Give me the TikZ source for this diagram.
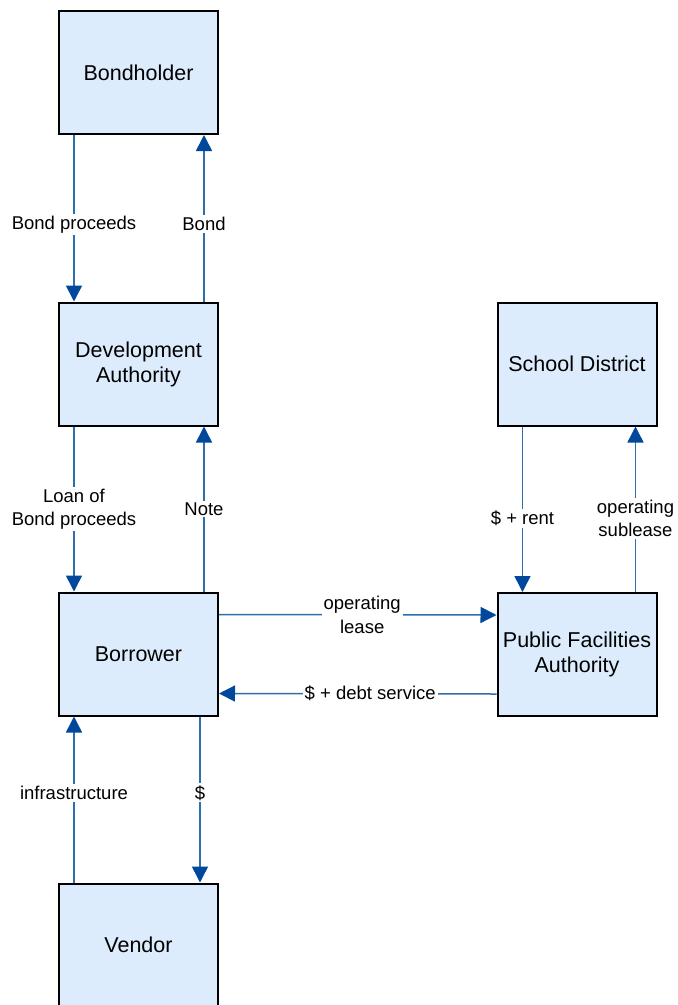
\documentclass[tikz,border=0pt]{standalone}
\usepackage{fontspec}
\setmainfont{Liberation Sans}
\usetikzlibrary{arrows.meta,calc}
\definecolor{boxfill}{RGB}{221,236,252}
\definecolor{linecol}{RGB}{46,110,170}
\definecolor{tipcol}{RGB}{0,72,155}
\tikzset{
  ent/.style={draw=black, line width=2pt, fill=boxfill, minimum width=159pt, minimum height=123pt,
    inner sep=0pt, align=center, font=\fontsize{21.5}{25}\selectfont},
  flow/.style={draw=linecol, line width=1.5pt, -{Triangle[width=16pt,length=16pt,color=tipcol]}},
  lbl/.style={fill=white, inner sep=2pt, align=center, font=\fontsize{18.5}{23.5}\selectfont},
}
\begin{document}
\begin{tikzpicture}[x=1pt,y=-1pt]
\clip (0,0) rectangle (678,1005);
\fill[white] (0,0) rectangle (678,1005);
\node[ent] (bh) at (138.5,72.5) {Bondholder};
\node[ent] (da) at (138.5,364) {Development\\Authority};
\node[ent] (bor) at (138.5,654) {Borrower};
\node[ent] (ven) at (138.5,945) {Vendor};
\node[ent] (sd) at (577,364) {School District};
\node[ent] (pfa) at (577,654.5) {Public Facilities\\Authority};

\draw[flow] ([xshift=16pt]bh.south west) -- ([xshift=16pt]da.north west) node[lbl,pos=0.536] {Bond proceeds};
\draw[flow] ([xshift=-15pt]da.north east) -- ([xshift=-15pt]bh.south east) node[lbl,pos=0.464] {Bond};
\draw[flow] ([xshift=16pt]da.south west) -- ([xshift=16pt]bor.north west) node[lbl,pos=0.5] {Loan of\\Bond proceeds};
\draw[flow] ([xshift=-15pt]bor.north east) -- ([xshift=-15pt]da.south east) node[lbl,pos=0.5] {Note};
\draw[flow] ([xshift=16pt]ven.north west) -- ([xshift=16pt]bor.south west) node[lbl,pos=0.54] {infrastructure};
\draw[flow] ([xshift=-19pt]bor.south east) -- ([xshift=-19pt]ven.north east) node[lbl,pos=0.46] {\$};
\draw[flow] ([xshift=26pt]sd.south west) -- ([xshift=26pt]pfa.north west) node[lbl,pos=0.554] {\$ + rent};
\draw[flow] ([xshift=-22pt]pfa.north east) -- ([xshift=-22pt]sd.south east) node[lbl,pos=0.446] {operating\\sublease};
\draw[flow] ([yshift=-23pt]bor.north east) -- ([yshift=-23pt]pfa.north west) node[lbl,pos=0.516] {operating\\lease};
\draw[flow] ([yshift=23pt]pfa.south west) -- ([yshift=23pt]bor.south east) node[lbl,pos=0.455] {\$ + debt service};
\end{tikzpicture}
\end{document}
